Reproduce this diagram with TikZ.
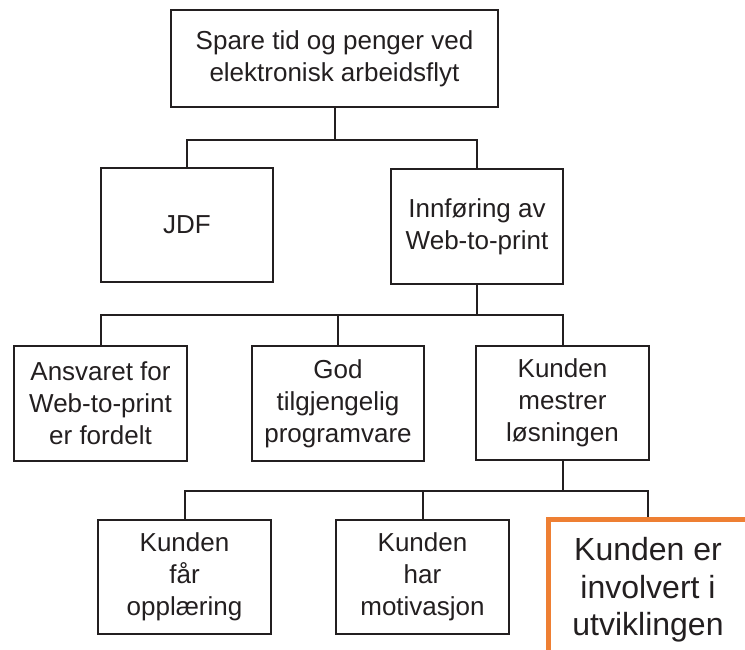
\documentclass[tikz,border=0pt]{standalone}
\usepackage{fontspec}
\setmainfont{Liberation Sans}
\definecolor{ink}{HTML}{231F20}
\definecolor{accent}{HTML}{EE7F33}
\begin{document}
\begin{tikzpicture}[x=1pt,y=-1pt,
  box/.style={draw=ink, line width=2pt, fill=white, text=ink, align=center,
    inner sep=0pt, font=\fontsize{26}{32}\selectfont},
  hibox/.style={draw=accent, line width=5pt, fill=white, text=ink, align=center,
    inner sep=0pt, font=\fontsize{32}{37.5}\selectfont},
  link/.style={draw=ink, line width=2pt}
]
\useasboundingbox (0,0) rectangle (745,650);
\clip (0,0) rectangle (745,650);

\node[box, minimum width=327pt, minimum height=97pt] (top) at (334.5,58.5)
  {Spare tid og penger ved\\elektronisk arbeidsflyt};
\node[box, minimum width=172pt, minimum height=114pt] (jdf) at (187,225) {JDF};
\node[box, minimum width=172pt, minimum height=115pt] (inn) at (477,226.5)
  {Innføring av\\Web-to-print};

\node[box, minimum width=173pt, minimum height=115pt] (ans) at (100.5,403.5)
  {Ansvaret for\\Web-to-print\\er fordelt};
\node[box, minimum width=172pt, minimum height=115pt] (god) at (338,403.5)
  {God\\tilgjengelig\\programvare};
\node[box, minimum width=173pt, minimum height=114pt] (mes) at (562.5,403)
  {Kunden\\mestrer\\løsningen};

\node[box, minimum width=173pt, minimum height=114pt] (far) at (184.5,577)
  {Kunden\\får\\opplæring};
\node[box, minimum width=173pt, minimum height=114pt] (har) at (422.5,577)
  {Kunden\\har\\motivasjon};
\node[hibox, minimum width=200pt, minimum height=142pt] (inv) at (648,590)
  {Kunden er\\involvert i\\utviklingen};

\draw[link] (top.south) -- ++(0,32) -| (jdf.north);
\draw[link] (top.south) ++(0,32) -| (inn.north);

\draw[link] (inn.south) -- ++(0,30) -| (ans.north);
\draw[link] (inn.south) ++(0,30) -| (god.north);
\draw[link] (inn.south) ++(0,30) -| (mes.north);

\draw[link] (mes.south) -- ++(0,29.5) -| (far.north);
\draw[link] (mes.south) ++(0,29.5) -| (har.north);
\draw[link] (mes.south) ++(0,29.5) -| (inv.north);
\end{tikzpicture}
\end{document}
